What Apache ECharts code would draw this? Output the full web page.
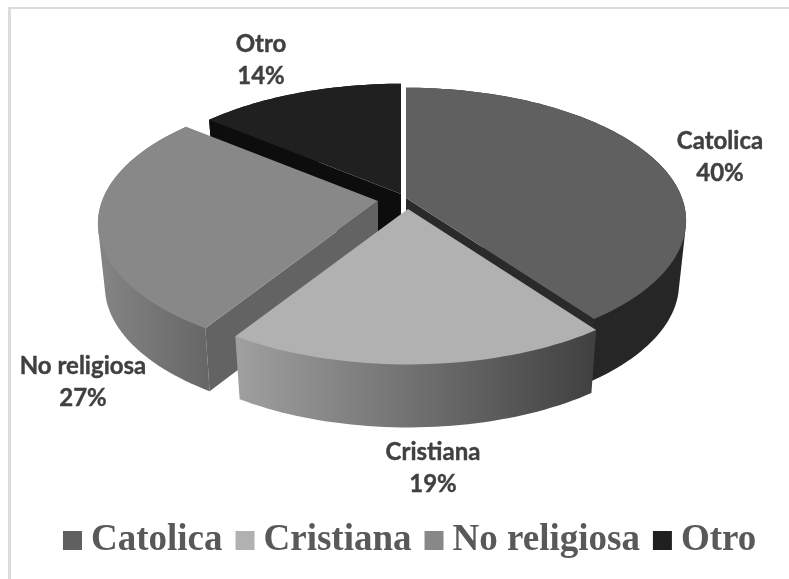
<!DOCTYPE html>
<html><head><meta charset="utf-8">
<style>html,body{margin:0;padding:0;background:#fff}#c{width:789px;height:579px}</style>
<script src="https://cdn.jsdelivr.net/npm/echarts@6/dist/echarts.min.js"></script>
</head><body><div id="c"></div>
<script>
const categories = ['Catolica', 'Cristiana', 'No religiosa', 'Otro'];
const values = [40, 19, 27, 14];

const topColors = ['#606060', '#b1b1b1', '#888888', '#202020'];
const centers = [[406, 198], [408, 209], [378, 201], [401, 194]];
const labelAt = [[720, 157], [433, 468], [83, 382.5], [261, 60]];
const wallFill = [
  ['#262626', '#262626'], ['#a0a0a0', '#404040'], ['#858585', '#666666'], ['#0d0d0d', '#0d0d0d']
];
const cutFill = [[null, '#2a2a2a'], [null, null], ['#636363', null], ['#0d0d0d', null]];
const order = [3, 2, 0, 1];
const A = 276, B = 129, K = 0.17, DEPTH = 63, SHRINK = 0.975;

const total = values.reduce((a, b) => a + b, 0);
function proj(c, deg) {
  const t = deg * Math.PI / 180, X = Math.sin(t), Y = -Math.cos(t), w = 1 - K * Y;
  return [c[0] + A * X / w, c[1] + B * Y / w];
}
function bottom(c, p) { return [c[0] + (p[0] - c[0]) * SHRINK, p[1] + DEPTH]; }
function arc(c, a0, a1) {
  const n = Math.ceil(Math.abs(a1 - a0) / 1.5), pts = [];
  for (let i = 0; i <= n; i++) pts.push(proj(c, a0 + (a1 - a0) * i / n));
  return pts;
}
function hull(points) {
  const p = points.slice().sort((a, b) => a[0] - b[0] || a[1] - b[1]);
  const cross = (o, a, b) => (a[0] - o[0]) * (b[1] - o[1]) - (a[1] - o[1]) * (b[0] - o[0]);
  const half = list => {
    const h = [];
    for (const q of list) {
      while (h.length >= 2 && cross(h[h.length - 2], h[h.length - 1], q) <= 0) h.pop();
      h.push(q);
    }
    h.pop();
    return h;
  };
  return half(p).concat(half(p.slice().reverse()));
}
function grad(pair) { return new echarts.graphic.LinearGradient(0, 0, 1, 0, [{offset: 0, color: pair[0]}, {offset: 1, color: pair[1]}]); }

function render(i) {
  return function (params, api) {
    const v = api.value(0);
    let acc = 0;
    for (let j = 0; j < i; j++) acc += values[j];
    const a0 = acc / total * 360, a1 = a0 + v / total * 360, c = centers[i];
    const rim = arc(c, a0, a1);
    const wall = hull(rim.concat(rim.map(p => bottom(c, p))));
    const apexB = bottom(c, c);
    const quad = p => [c, p, bottom(c, p), apexB];
    const kids = [{type: 'polygon', shape: {points: wall}, style: {fill: grad(wallFill[i])}}];
    if (cutFill[i][0]) kids.push({type: 'polygon', shape: {points: quad(rim[0])}, style: {fill: cutFill[i][0]}});
    if (cutFill[i][1]) kids.push({type: 'polygon', shape: {points: quad(rim[rim.length - 1])}, style: {fill: cutFill[i][1]}});
    kids.push(
      {type: 'polygon', shape: {points: [c].concat(rim)}, style: {fill: topColors[i]}},
      {type: 'text', style: {
        text: categories[i] + '\n' + Math.round(v / total * 100) + '%',
        x: labelAt[i][0], y: labelAt[i][1], align: 'center', verticalAlign: 'middle',
        fontFamily: 'Lato', fontWeight: 'bold', fontSize: 24, lineHeight: 32, fill: '#404040',
        stroke: '#404040', lineWidth: 0.4
      }}
    );
    return {type: 'group', children: kids};
  };
}

const chart = echarts.init(document.getElementById('c'), null, {renderer: 'canvas'});
chart.setOption({
  animation: false,
  backgroundColor: '#fff',
  graphic: [
    {type: 'rect', z: 0, shape: {x: 8, y: 7, width: 781, height: 2}, style: {fill: '#dcdcdc'}},
    {type: 'rect', z: 0, shape: {x: 8, y: 7, width: 3, height: 572}, style: {fill: '#dcdcdc'}}
  ],
  legend: {
    data: categories, left: 58, top: 517, itemWidth: 19, itemHeight: 19, itemGap: 13,
    icon: 'rect', selectedMode: false,
    textStyle: {fontFamily: 'Liberation Serif', fontWeight: 'bold', fontSize: 37, color: '#595959', padding: [0, 0, 0, 4]}
  },
  series: categories.map((name, i) => ({
    type: 'custom', name, coordinateSystem: 'none', z: 2 + order.indexOf(i),
    renderItem: render(i), silent: true,
    itemStyle: {color: topColors[i]},
    data: [[values[i]]]
  }))
});
</script></body></html>
